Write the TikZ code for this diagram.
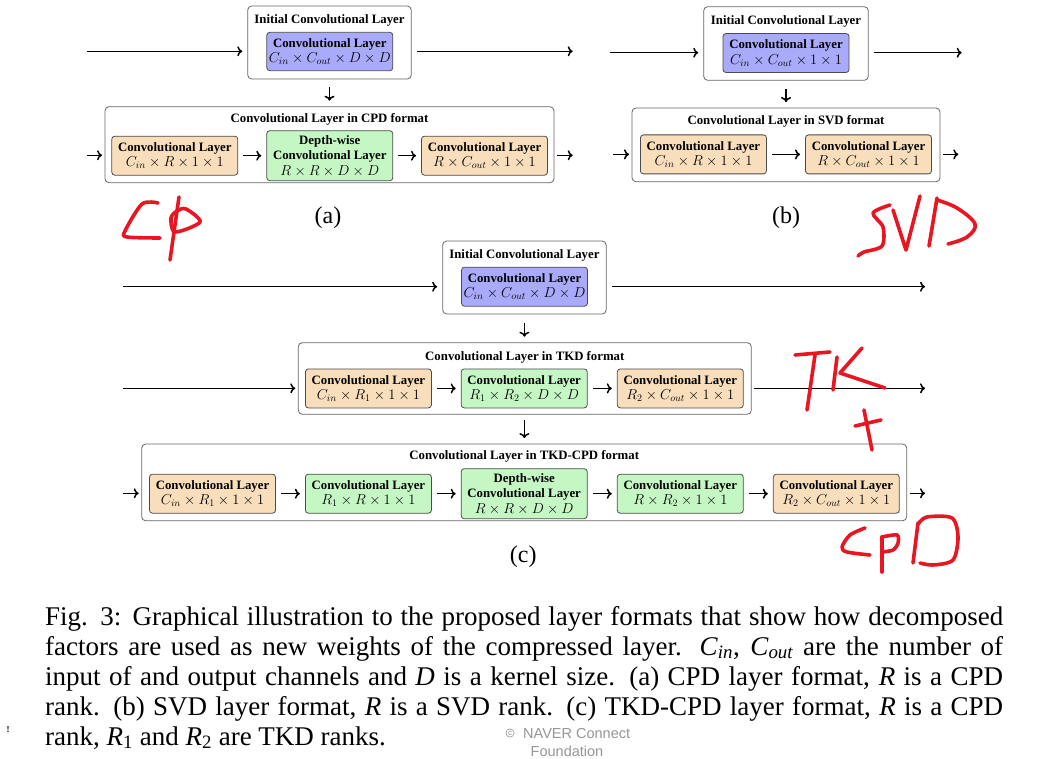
\documentclass[tikz,border=0pt]{standalone}
\usepackage[no-math]{fontspec}
\setmainfont{Liberation Serif}
\newfontfamily\wmfont{Liberation Sans}
\usetikzlibrary{arrows.meta}

\definecolor{convblue}{RGB}{170,170,250}
\definecolor{convorange}{RGB}{249,222,187}
\definecolor{convgreen}{RGB}{197,247,197}
\definecolor{penred}{RGB}{232,22,32}
\definecolor{wmgray}{RGB}{150,150,150}

\newcommand{\layerfont}{\fontsize{12.8}{15.5}\selectfont\bfseries}
\newcommand{\dims}[1]{{\fontsize{14.2}{15.5}\selectfont$#1$}}
\newcommand{\capfont}{\fontsize{27}{30}\selectfont}
\newcommand{\capvar}[2]{\textit{#1}\textsubscript{\textit{#2}}}
\newcommand{\capidx}[2]{\textit{#1}\textsubscript{#2}}

\tikzset{
    layer/.style={draw=black!70, line width=0.8pt, rounded corners=3pt,
        minimum width=126pt, minimum height=39pt, inner sep=0pt,
        outer sep=5.5pt, align=center, font=\layerfont},
    bluelayer/.style={layer, fill=convblue},
    orangelayer/.style={layer, fill=convorange},
    greenlayer/.style={layer, fill=convgreen},
    dwlayer/.style={greenlayer, minimum height=50pt},
    holder/.style={draw=black!60, line width=0.8pt, rounded corners=4pt,
        fill=white, inner sep=0pt, outer sep=3pt},
    initholder/.style={holder, outer sep=5.5pt, minimum width=163.5pt, minimum height=73pt},
    holdertitle/.style={font=\layerfont, inner sep=0pt},
    flow/.style={-{To[length=5pt,width=10pt]}, line width=1.5pt},
    downflow/.style={flow, shorten <=3pt, shorten >=3pt},
    sublabel/.style={font=\fontsize{24}{28}\selectfont, inner sep=0pt},
    capline/.style={font=\capfont, anchor=base west, inner sep=0pt},
    wm/.style={font=\wmfont\fontsize{14.5}{16}\selectfont, text=wmgray, inner sep=0pt},
    pen/.style={penred, line width=3.6pt, line cap=round, line join=round}
}

\begin{document}
\begin{tikzpicture}[x=1pt, y=-1pt]
    \useasboundingbox[fill=white] (0,0) rectangle (1046,759);

    % ---- (a) CPD ----
    \node[initholder] (initA) at (329.5,42.5) {};
    \node[holdertitle] (initAtitle) at (329.5,20.5) {Initial Convolutional Layer};
    \node[bluelayer, minimum height=38.4pt] (convA) at (329.8,51.5)
        {Convolutional Layer\\ \dims{C_{in}\times C_{out}\times D\times D}};
    \coordinate (inA) at (86.7,51.3);
    \coordinate (outA) at (572.7,51.3);
    \draw[flow] (inA) -- (initA.west |- inA);
    \draw[flow] (initA.east |- outA) -- (outA);

    \node[holder, minimum width=449pt, minimum height=76pt] (cpdA) at (329.5,144.7) {};
    \node[holdertitle] (cpdAtitle) at (329.5,119) {Convolutional Layer in CPD format};
    \node[orangelayer] (a1) at (174.8,155.7) {Convolutional Layer\\ \dims{C_{in}\times R\times 1\times 1}};
    \node[dwlayer] (a2) at (329.8,155.7) {Depth-wise\\ Convolutional Layer\\ \dims{R\times R\times D\times D}};
    \node[orangelayer] (a3) at (484.5,155.7) {Convolutional Layer\\ \dims{R\times C_{out}\times 1\times 1}};
    \coordinate (inA2) at (86.7,155.3);
    \coordinate (outA2) at (572.7,155.3);
    \draw[downflow] (initA) -- (cpdA);
    \draw[flow] (inA2) -- (cpdA.west |- inA2);
    \draw[flow] (a1) -- (a2);
    \draw[flow] (a2) -- (a3);
    \draw[flow] (cpdA.east |- outA2) -- (outA2);
    \node[sublabel] (labA) at (328,218) {(a)};

    % ---- (b) SVD ----
    \node[initholder, minimum width=164.6pt, minimum height=73.6pt] (initB) at (786,43.5) {};
    \node[holdertitle] (initBtitle) at (786,21.3) {Initial Convolutional Layer};
    \node[bluelayer] (convB) at (786,53) {Convolutional Layer\\ \dims{C_{in}\times C_{out}\times 1\times 1}};
    \coordinate (inB) at (610,52.7);
    \coordinate (outB) at (961.7,52.7);
    \draw[flow] (inB) -- (initB.west |- inB);
    \draw[flow] (initB.east |- outB) -- (outB);

    \node[holder, minimum width=308pt, minimum height=73.7pt] (svdB) at (786,144.9) {};
    \node[holdertitle] (svdBtitle) at (786,121) {Convolutional Layer in SVD format};
    \node[orangelayer] (b1) at (703.4,154.4) {Convolutional Layer\\ \dims{C_{in}\times R\times 1\times 1}};
    \node[orangelayer] (b2) at (868.5,154.4) {Convolutional Layer\\ \dims{R\times C_{out}\times 1\times 1}};
    \coordinate (inB2) at (613,154.4);
    \coordinate (outB2) at (958.3,154.4);
    \draw[downflow] (initB) -- (svdB);
    \draw[flow] (inB2) -- (svdB.west |- inB2);
    \draw[flow] (b1) -- (b2);
    \draw[flow] (svdB.east |- outB2) -- (outB2);
    \node[sublabel] (labB) at (786,217.3) {(b)};

    % ---- (c) TKD and TKD-CPD ----
    \node[initholder] (initC) at (524.4,277.5) {};
    \node[holdertitle] (initCtitle) at (524.4,255) {Initial Convolutional Layer};
    \node[bluelayer] (convC) at (524.5,286.7) {Convolutional Layer\\ \dims{C_{in}\times C_{out}\times D\times D}};
    \coordinate (inC) at (123.3,286.7);
    \coordinate (outC) at (925,286.7);
    \draw[flow] (inC) -- (initC.west |- inC);
    \draw[flow] (initC.east |- outC) -- (outC);

    \node[holder, minimum width=453pt, minimum height=71.6pt] (tkdC) at (524.8,378.5) {};
    \node[holdertitle] (tkdCtitle) at (524.8,357.7) {Convolutional Layer in TKD format};
    \node[orangelayer] (t1) at (368.4,388.4) {Convolutional Layer\\ \dims{C_{in}\times R_1\times 1\times 1}};
    \node[greenlayer] (t2) at (524.2,388.4) {Convolutional Layer\\ \dims{R_1\times R_2\times D\times D}};
    \node[orangelayer] (t3) at (680.3,388.4) {Convolutional Layer\\ \dims{R_2\times C_{out}\times 1\times 1}};
    \coordinate (inC2) at (123.3,388.3);
    \coordinate (outC2) at (925,388.3);
    \draw[downflow] (initC.south) -- (initC.south |- tkdC.north);
    \draw[flow] (inC2) -- (tkdC.west |- inC2);
    \draw[flow] (t1) -- (t2);
    \draw[flow] (t2) -- (t3);
    \draw[flow] (tkdC.east |- outC2) -- (outC2);

    \node[holder, minimum width=765pt, minimum height=76.7pt] (tcC) at (524.2,482.4) {};
    \node[holdertitle] (tcCtitle) at (524.2,456) {Convolutional Layer in TKD-CPD format};
    \node[orangelayer] (c1) at (212.5,493.7) {Convolutional Layer\\ \dims{C_{in}\times R_1\times 1\times 1}};
    \node[greenlayer] (c2) at (368.4,493.7) {Convolutional Layer\\ \dims{R_1\times R\times 1\times 1}};
    \node[dwlayer] (c3) at (524.2,493.7) {Depth-wise\\ Convolutional Layer\\ \dims{R\times R\times D\times D}};
    \node[greenlayer] (c4) at (680.3,493.7) {Convolutional Layer\\ \dims{R\times R_2\times 1\times 1}};
    \node[orangelayer] (c5) at (836.3,493.7) {Convolutional Layer\\ \dims{R_2\times C_{out}\times 1\times 1}};
    \coordinate (inC3) at (123.3,493.3);
    \coordinate (outC3) at (925,493.3);
    \draw[downflow] (tkdC.south -| initC.south) -- (tcC.north -| initC.south);
    \draw[flow] (inC3) -- (tcC.west |- inC3);
    \draw[flow] (c1) -- (c2);
    \draw[flow] (c2) -- (c3);
    \draw[flow] (c3) -- (c4);
    \draw[flow] (c4) -- (c5);
    \draw[flow] (tcC.east |- outC3) -- (outC3);
    \node[sublabel] (labC) at (523.3,556.7) {(c)};

    % ---- handwritten notes ----
    % CP
    \draw[pen] plot[smooth, tension=0.5] coordinates {(158,203) (142,204) (125,231) (127,237) (160,238)};
    \draw[pen] (179,197) -- (170,260);
    \draw[pen] plot[smooth cycle, tension=0.5] coordinates {(177,211) (171,218) (175,232) (200,222) (186,209)};
    % SVD
    \draw[pen] plot[smooth, tension=0.5] coordinates {(890,205) (873,213) (883,227) (882,246) (864,252) (858,256)};
    \draw[pen] (893,210) -- (906,250) -- (920,196);
    \draw[pen] (937,198) -- (929,246);
    \draw[pen] plot[smooth, tension=0.6] coordinates {(937,200) (957,208) (975,224) (967,237) (948,244)};
    % TK + CPD
    \draw[pen] (795,355) -- (830,352);
    \draw[pen] (815,355) -- (807,410);
    \draw[pen] (837,357) -- (833,390);
    \draw[pen] (862,348) -- (840,373) -- (885,388);
    \draw[pen] (855,426) -- (881,420);
    \draw[pen] (864,410) -- (872,450);
    \draw[pen] plot[smooth, tension=0.5] coordinates {(865,528) (850,535) (842,547) (847,552) (870,555)};
    \draw[pen] (882,537) -- (882,572);
    \draw[pen] plot[smooth, tension=0.5] coordinates {(882,537) (897,535) (898,543) (893,550) (882,552)};
    \draw[pen] (918,523) -- (913,563);
    \draw[pen] plot[smooth, tension=0.5] coordinates {(918,524) (927,517) (952,518) (958,537) (953,560) (933,565) (920,563)};

    % ---- caption ----
    \node[capline] (cap1) at (45,625) {\makebox[958pt][s]{Fig. 3: Graphical illustration to the proposed layer formats that show how decomposed}};
    \node[capline] (cap2) at (45,655) {\makebox[958pt][s]{factors are used as new weights of the compressed layer. \capvar{C}{in}, \capvar{C}{out} are the number of}};
    \node[capline] (cap3) at (45,685) {\makebox[958pt][s]{input of and output channels and \textit{D} is a kernel size. (a) CPD layer format, \textit{R} is a CPD}};
    \node[capline] (cap4) at (45,715) {\makebox[958pt][s]{rank. (b) SVD layer format, \textit{R} is a SVD rank. (c) TKD-CPD layer format, \textit{R} is a CPD}};
    \node[capline] (cap5) at (45,745) {rank, \capidx{R}{1} and \capidx{R}{2} are TKD ranks.};

    % ---- watermark ----
    \node[wm, circle, draw=wmgray, line width=0.6pt, inner sep=0.8pt,
        font=\wmfont\fontsize{8}{8}\selectfont] (wmc) at (510,733) {c};
    \node[wm, anchor=west] (wm1) at (523,734) {NAVER Connect};
    \node[wm] (wm2) at (567,751) {Foundation};
    \node[font=\fontsize{9}{10}\selectfont\bfseries, inner sep=0pt] (mark) at (8,730) {!};
\end{tikzpicture}
\end{document}
